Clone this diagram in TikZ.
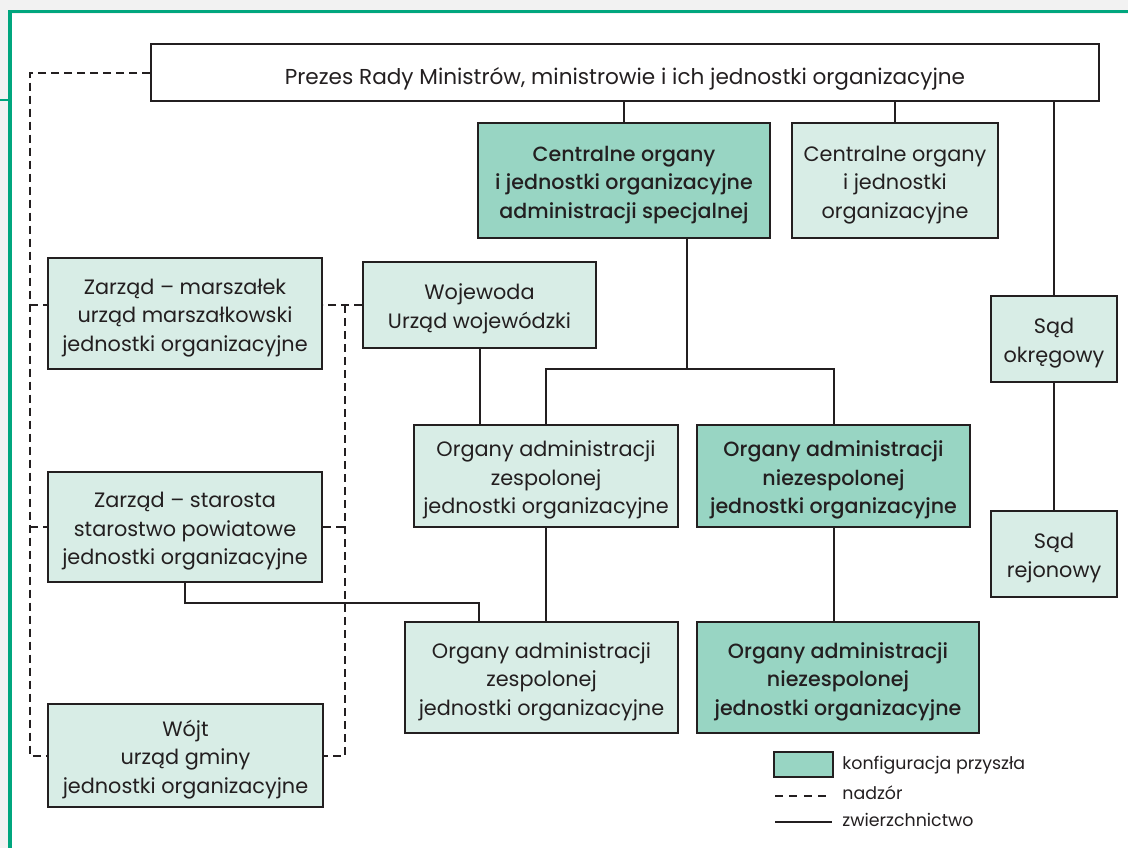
\documentclass[tikz,border=0pt]{standalone}
\usepackage{fontspec}
\setmainfont{Poppins}[BoldFont={Poppins Medium}]
\definecolor{frame}{HTML}{00A67E}
\definecolor{lightbox}{HTML}{D8EDE6}
\definecolor{darkbox}{HTML}{98D5C3}
\definecolor{ink}{HTML}{231F20}
% multi-line text block, a little extra room on top so the lines sit lower
\newcommand\boxlines[1]{\raisebox{0pt}[\dimexpr\height+3.5pt\relax][\depth]{\begin{tabular}{@{}c@{}}#1\end{tabular}}}
\tikzset{
  base/.style={draw=ink, line width=1pt, rectangle, inner sep=0pt, text=ink,
    font=\fontsize{10.4}{14.3}\selectfont},
  lbox/.style={base, fill=lightbox},
  dbox/.style={base, fill=darkbox, font=\fontsize{10.3}{14.3}\selectfont\bfseries},
  wbox/.style={base, fill=white, font=\fontsize{10.8}{14.3}\selectfont,
    execute at begin node={\rule{0pt}{15.3pt}}},
  conn/.style={draw=ink, line width=1pt},
  nadz/.style={draw=ink, line width=1pt, dash pattern=on 4pt off 2.5pt},
  lgtext/.style={inner sep=0pt, text=ink, font=\fontsize{8.7}{10}\selectfont, anchor=west},
}
\begin{document}
\begin{tikzpicture}[x=0.5pt,y=-0.5pt]
\useasboundingbox (0,0) rectangle (1128,848);
% frame
\fill[gray!10] (0,0) rectangle (1128,848);
\fill[white] (12,13.5) rectangle (1128,848);
\draw[frame, line width=1.8pt] (8,11.5) -- (1128,11.5);
\draw[frame, line width=2pt] (10,10) -- (10,848);
\draw[frame, line width=1pt] (0,100) -- (10,100);

% nodes
\node[wbox, minimum width=474pt, minimum height=28.5pt] (prezes) at (625,72.5)
  {Prezes Rady Ministrów, ministrowie i ich jednostki organizacyjne};
\node[dbox, minimum width=146pt, minimum height=57.5pt] (cspec) at (624,180.5)
  {\boxlines{Centralne organy\\i jednostki organizacyjne\\administracji specjalnej}};
\node[lbox, minimum width=103pt, minimum height=57.5pt] (clight) at (895,180.5)
  {\boxlines{Centralne organy\\i jednostki\\organizacyjne}};
\node[lbox, minimum width=137pt, minimum height=55.5pt] (marsz) at (185,313.5)
  {\boxlines{Zarząd – marszałek\\urząd marszałkowski\\jednostki organizacyjne}};
\node[lbox, minimum width=116.5pt, minimum height=43pt] (woj) at (479.5,305)
  {\boxlines{Wojewoda\\Urząd wojewódzki}};
\node[lbox, minimum width=63pt, minimum height=43pt] (sadok) at (1054,339)
  {\boxlines{Sąd\\okręgowy}};
\node[lbox, minimum width=132pt, minimum height=51pt] (zespA) at (546,476)
  {\boxlines{Organy administracji\\zespolonej\\jednostki organizacyjne}};
\node[dbox, minimum width=136.5pt, minimum height=51pt] (niezA) at (833.5,476)
  {\boxlines{Organy administracji\\niezespolonej\\jednostki organizacyjne}};
\node[lbox, minimum width=137pt, minimum height=55pt] (star) at (185,527)
  {\boxlines{Zarząd – starosta\\starostwo powiatowe\\jednostki organizacyjne}};
\node[lbox, minimum width=63pt, minimum height=43pt] (sadrej) at (1054,554)
  {\boxlines{Sąd\\rejonowy}};
\node[lbox, minimum width=136.5pt, minimum height=55.5pt] (zespB) at (541.5,677.5)
  {\boxlines{Organy administracji\\zespolonej\\jednostki organizacyjne}};
\node[dbox, minimum width=141pt, minimum height=55.5pt] (niezB) at (838,677.5)
  {\boxlines{Organy administracji\\niezespolonej\\jednostki organizacyjne}};
\node[lbox, minimum width=137.5pt, minimum height=51.5pt] (wojt) at (185.5,755.5)
  {\boxlines{Wójt\\urząd gminy\\jednostki organizacyjne}};

% helper coordinates
\coordinate (lcol) at (30,0);
\coordinate (rcol) at (345,0);
\coordinate (j1) at (687,369);
\coordinate (k1) at (479,603);

% zwierzchnictwo
\draw[conn] (cspec.north) -- (cspec.north |- prezes.south);
\draw[conn] (clight.north) -- (clight.north |- prezes.south);
\draw[conn] (sadok.north) -- (sadok.north |- prezes.south);
\draw[conn] (sadok.south) -- (sadrej.north);
\draw[conn] (cspec.south -| j1) -- (j1);
\draw[conn] (zespA.north) |- (j1) -| (niezA.north);
\draw[conn] (woj.south) -- (woj.south |- zespA.north);
\draw[conn] (zespA.south) -- (zespA.south |- zespB.north);
\draw[conn] (niezA.south) -- (niezA.south |- niezB.north);
\draw[conn] (star.south) |- (k1) -- (k1 |- zespB.north);

% nadzor
\draw[nadz] (prezes.west) -| (lcol |- wojt.west) -- (wojt.west);
\draw[nadz] (lcol |- woj.west) -- (marsz.west |- woj.west);
\draw[nadz] (lcol |- star.west) -- (star.west);
\draw[nadz] (woj.west) -- (marsz.east |- woj.west);
\draw[nadz] (rcol |- woj.west) -- (rcol |- wojt.east) -- (wojt.east);
\draw[nadz] (star.east) -- (rcol |- star.east);

% legend
\node[draw=ink, line width=1pt, fill=darkbox, inner sep=0pt, minimum width=29.5pt, minimum height=12.5pt] (lgbox) at (803,764.5) {};
\node[lgtext] (lgt1) at (842,765) {konfiguracja przyszła};
\node[lgtext] (lgt2) at (842,793) {nadzór};
\node[lgtext] (lgt3) at (842,820) {zwierzchnictwo};
\coordinate (lga) at (775,796);
\coordinate (lgb) at (832,796);
\coordinate (lgc) at (775,822);
\coordinate (lgd) at (832,822);
\draw[nadz, dash pattern=on 4pt off 3.2pt] (lga) -- (lgb);
\draw[conn] (lgc) -- (lgd);
\end{tikzpicture}
\end{document}
